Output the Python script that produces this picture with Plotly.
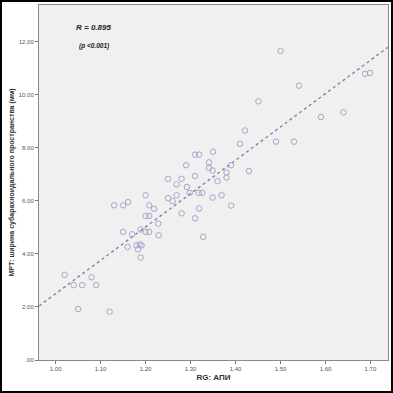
import plotly.graph_objects as go

# Data
rg_api = [1.020, 1.040, 1.059, 1.080, 1.090, 1.050, 1.120,
          1.130, 1.150, 1.161, 1.200, 1.208, 1.219, 1.200, 1.208, 1.228,
          1.150, 1.170, 1.189, 1.200, 1.208, 1.229, 1.160, 1.180, 1.187,
          1.183, 1.191, 1.189,
          1.250, 1.260, 1.269, 1.280, 1.310, 1.319, 1.328, 1.250, 1.280,
          1.269, 1.310, 1.292, 1.298, 1.318, 1.326, 1.290, 1.310, 1.319,
          1.350, 1.341, 1.341, 1.349, 1.380, 1.380, 1.390, 1.360, 1.349,
          1.369, 1.390, 1.430, 1.421, 1.410, 1.451, 1.490, 1.530, 1.500,
          1.541, 1.590, 1.640, 1.688, 1.699]
mri_width = [3.21, 2.82, 2.82, 3.12, 2.82, 1.92, 1.82,
             5.83, 5.83, 5.95, 6.21, 5.83, 5.70, 5.43, 5.43, 5.14,
             4.83, 4.74, 4.92, 4.83, 4.83, 4.70, 4.26, 4.32, 4.36,
             4.17, 4.32, 3.86,
             6.10, 5.99, 6.21, 5.53, 5.34, 5.71, 4.64, 6.83, 6.83,
             6.62, 6.93, 6.52, 6.30, 6.30, 6.30, 7.34, 7.74, 7.74,
             7.85, 7.45, 7.24, 7.14, 7.07, 6.88, 7.34, 6.74, 6.12,
             6.21, 5.82, 7.12, 8.65, 8.15, 9.75, 8.23, 8.23, 11.65,
             10.34, 9.16, 9.33, 10.79, 10.82]

fit_slope = 12.57
fit_intercept = -10.07

x_tick_vals = [1.00, 1.10, 1.20, 1.30, 1.40, 1.50, 1.60, 1.70]
x_tick_text = ["1.00", "1.10", "1.20", "1.30", "1.40", "1.50", "1.60", "1.70"]
y_tick_vals = [0, 2, 4, 6, 8, 10, 12]
y_tick_text = [".00", "2.00", "4.00", "6.00", "8.00", "10.00", "12.00"]

x_range = [0.963, 1.739]
y_range = [0.0, 13.38]

fit_x = x_range
fit_y = [fit_intercept + fit_slope * v for v in fit_x]

fig = go.Figure()
fig.add_trace(go.Scatter(
    x=fit_x, y=fit_y, mode="lines",
    line=dict(color="#7f84a8", width=1.4, dash="dot"),
    hoverinfo="skip", showlegend=False))
fig.add_trace(go.Scatter(
    x=rg_api, y=mri_width, mode="markers",
    marker=dict(symbol="circle-open", size=5.5, color="#a4a6cc",
                line=dict(width=1, color="#a4a6cc")),
    showlegend=False))

fig.update_layout(
    width=393, height=393,
    margin=dict(l=39, r=5, t=5, b=33),
    paper_bgcolor="white",
    plot_bgcolor="#f0f0f0",
    font=dict(family="Liberation Sans, Arial", size=6, color="#555555"),
    xaxis=dict(range=x_range, tickvals=x_tick_vals, ticktext=x_tick_text,
               ticks="outside", ticklen=3, tickcolor="#777777",
               showgrid=False, zeroline=False, showline=True, mirror=True,
               linecolor="#8a8a8a", linewidth=1, automargin=False,
               title=dict(text="<b>RG: АПИ</b>", standoff=3,
                          font=dict(size=8, color="#333333"))),
    yaxis=dict(range=y_range, tickvals=y_tick_vals, ticktext=y_tick_text,
               ticks="outside", ticklen=3, tickcolor="#777777",
               showgrid=False, zeroline=False, showline=True, mirror=True,
               linecolor="#8a8a8a", linewidth=1, automargin=False,
               title=dict(text="<b>МРТ: ширина субарахноидального пространства (мм)</b>",
                          standoff=3, font=dict(size=7, color="#333333"))),
    annotations=[
        dict(text="<b><i>R = 0.895</i></b>", xref="paper", yref="paper",
             x=0.100, y=0.937, xanchor="left", yanchor="middle",
             showarrow=False, font=dict(size=8, color="#222222")),
        dict(text="<b><i>(p &lt;0.001)</i></b>", xref="paper", yref="paper",
             x=0.108, y=0.885, xanchor="left", yanchor="middle",
             showarrow=False, font=dict(size=6.5, color="#222222")),
    ],
    shapes=[
        dict(type="rect", xref="paper", yref="paper", layer="above",
             x0=-0.1089, x1=1.0115, y0=-0.0901, y1=1.0113,
             line=dict(color="black", width=2), fillcolor="rgba(0,0,0,0)"),
    ],
)

fig.write_html("out.html",
               config={"displayModeBar": False},
               post_script="document.body.style.margin='0';document.body.style.padding='0';")
